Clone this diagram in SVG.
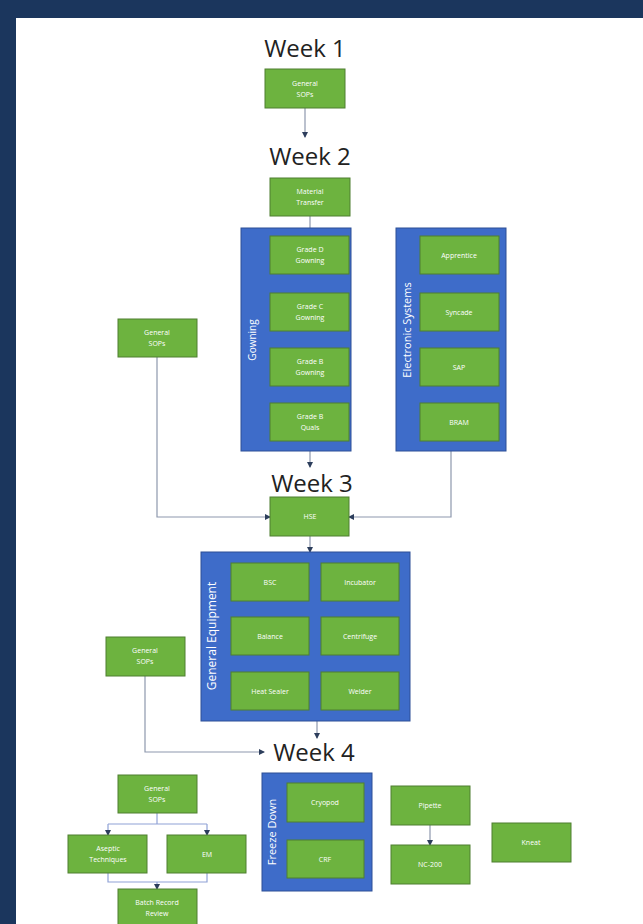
<svg xmlns="http://www.w3.org/2000/svg" width="643" height="924" viewBox="0 0 643 924">
<defs>
<style>
.bg{fill:#1b365d}
.panel{fill:#ffffff}
.box{fill:#6db33f;stroke:#4f7f30;stroke-width:1}
.grp{fill:#3e6cc9;stroke:#2c4f96;stroke-width:1}
.t{font-family:"Open Sans","Liberation Sans",sans-serif;font-size:7px;fill:#ffffff;text-anchor:middle}
.wk{font-family:"Open Sans","Liberation Sans",sans-serif;font-size:24px;fill:#222222;text-anchor:middle}
.gl{font-family:"Open Sans","Liberation Sans",sans-serif;fill:#ffffff;text-anchor:middle}
.ln{fill:none;stroke:#8e98ad;stroke-width:1.2}
.lb{fill:none;stroke:#8fa2d6;stroke-width:1.2}
</style>
<marker id="ah" viewBox="0 0 6 6" refX="5" refY="3" markerWidth="5" markerHeight="5" orient="auto">
<path d="M0,0 L6,3 L0,6 z" fill="#2d3e5c"/>
</marker>
</defs>
<rect class="bg" x="0" y="0" width="643" height="924"/>
<rect class="panel" x="16" y="18" width="627" height="906"/>

<g id="labels">
<text class="wk" x="305" y="57">Week 1</text>
<text class="wk" x="310" y="165">Week 2</text>
<text class="wk" x="312" y="492">Week 3</text>
<text class="wk" x="314" y="761">Week 4</text>
</g>

<g id="connectors">
<path class="ln" d="M305,108 V137" marker-end="url(#ah)"/>
<path class="ln" d="M310,216 V236" marker-end="url(#ah)"/>
<path class="ln" d="M310,274 V293" marker-end="url(#ah)"/>
<path class="ln" d="M310,331 V348" marker-end="url(#ah)"/>
<path class="ln" d="M310,386 V403" marker-end="url(#ah)"/>
<path class="ln" d="M310,451 V467" marker-end="url(#ah)"/>
<path class="ln" d="M157,357 V517 H270" marker-end="url(#ah)"/>
<path class="ln" d="M451,451 V517 H349" marker-end="url(#ah)"/>
<path class="ln" d="M310,536 V552" marker-end="url(#ah)"/>
<path class="ln" d="M317,721 V738" marker-end="url(#ah)"/>
<path class="ln" d="M145,676 V752 H264" marker-end="url(#ah)"/>
<path class="lb" d="M157,813 V824"/>
<path class="lb" d="M108,824 H207"/>
<path class="lb" d="M108,824 V835" marker-end="url(#ah)"/>
<path class="lb" d="M207,824 V835" marker-end="url(#ah)"/>
<path class="lb" d="M108,873 V882 H207 V873"/>
<path class="lb" d="M157,882 V889" marker-end="url(#ah)"/>
<path class="ln" d="M325,822 V840" marker-end="url(#ah)"/>
<path class="ln" d="M430,825 V845" marker-end="url(#ah)"/>
</g>

<g id="n-w1-sops"><rect class="box" x="265" y="69" width="80" height="39"/><text class="t" x="305" y="86">General</text><text class="t" x="305" y="97">SOPs</text></g>
<g id="n-material"><rect class="box" x="270" y="178" width="80" height="38"/><text class="t" x="310" y="194">Material</text><text class="t" x="310" y="205">Transfer</text></g>

<g id="g-gowning"><rect class="grp" x="241" y="228" width="110" height="223"/><text class="gl" font-size="10" transform="translate(256,340) rotate(-90)">Gowning</text></g>
<g id="n-gradeD"><rect class="box" x="270" y="236" width="79" height="38"/><text class="t" x="310" y="252">Grade D</text><text class="t" x="310" y="263">Gowning</text></g>
<g id="n-gradeC"><rect class="box" x="270" y="293" width="79" height="38"/><text class="t" x="310" y="309">Grade C</text><text class="t" x="310" y="320">Gowning</text></g>
<g id="n-gradeB"><rect class="box" x="270" y="348" width="79" height="38"/><text class="t" x="310" y="364">Grade B</text><text class="t" x="310" y="375">Gowning</text></g>
<g id="n-gradeBq"><rect class="box" x="270" y="403" width="79" height="38"/><text class="t" x="310" y="419">Grade B</text><text class="t" x="310" y="430">Quals</text></g>

<g id="g-electronic"><rect class="grp" x="396" y="228" width="110" height="223"/><text class="gl" font-size="11" transform="translate(411,330) rotate(-90)">Electronic Systems</text></g>
<g id="n-apprentice"><rect class="box" x="420" y="236" width="79" height="38"/><text class="t" x="459" y="258">Apprentice</text></g>
<g id="n-syncade"><rect class="box" x="420" y="293" width="79" height="38"/><text class="t" x="459" y="315">Syncade</text></g>
<g id="n-sap"><rect class="box" x="420" y="348" width="79" height="38"/><text class="t" x="459" y="370">SAP</text></g>
<g id="n-bram"><rect class="box" x="420" y="403" width="79" height="38"/><text class="t" x="459" y="425">BRAM</text></g>

<g id="n-w3-sops"><rect class="box" x="118" y="319" width="79" height="38"/><text class="t" x="157" y="335">General</text><text class="t" x="157" y="346">SOPs</text></g>
<g id="n-hse"><rect class="box" x="270" y="497" width="79" height="39"/><text class="t" x="310" y="519">HSE</text></g>

<g id="g-equipment"><rect class="grp" x="201" y="552" width="209" height="169"/><text class="gl" font-size="12" transform="translate(216,636) rotate(-90)">General Equipment</text></g>
<g id="n-bsc"><rect class="box" x="231" y="563" width="78" height="38"/><text class="t" x="270" y="585">BSC</text></g>
<g id="n-incubator"><rect class="box" x="321" y="563" width="78" height="38"/><text class="t" x="360" y="585">Incubator</text></g>
<g id="n-balance"><rect class="box" x="231" y="617" width="78" height="38"/><text class="t" x="270" y="639">Balance</text></g>
<g id="n-centrifuge"><rect class="box" x="321" y="617" width="78" height="38"/><text class="t" x="360" y="639">Centrifuge</text></g>
<g id="n-heatsealer"><rect class="box" x="231" y="672" width="78" height="38"/><text class="t" x="270" y="694">Heat Sealer</text></g>
<g id="n-welder"><rect class="box" x="321" y="672" width="78" height="38"/><text class="t" x="360" y="694">Welder</text></g>

<g id="n-w4-sops"><rect class="box" x="106" y="637" width="79" height="39"/><text class="t" x="145" y="653">General</text><text class="t" x="145" y="664">SOPs</text></g>

<g id="n-b-sops"><rect class="box" x="118" y="775" width="79" height="38"/><text class="t" x="157" y="791">General</text><text class="t" x="157" y="802">SOPs</text></g>
<g id="n-aseptic"><rect class="box" x="68" y="835" width="79" height="38"/><text class="t" x="108" y="851">Aseptic</text><text class="t" x="108" y="862">Techniques</text></g>
<g id="n-em"><rect class="box" x="167" y="835" width="79" height="38"/><text class="t" x="207" y="857">EM</text></g>
<g id="n-batch"><rect class="box" x="118" y="889" width="79" height="40"/><text class="t" x="157" y="905">Batch Record</text><text class="t" x="157" y="916">Review</text></g>

<g id="g-freeze"><rect class="grp" x="262" y="773" width="110" height="118"/><text class="gl" font-size="11" transform="translate(276,832) rotate(-90)">Freeze Down</text></g>
<g id="n-cryopod"><rect class="box" x="287" y="783" width="77" height="39"/><text class="t" x="325" y="805">Cryopod</text></g>
<g id="n-crf"><rect class="box" x="287" y="840" width="77" height="38"/><text class="t" x="325" y="862">CRF</text></g>

<g id="n-pipette"><rect class="box" x="391" y="786" width="79" height="39"/><text class="t" x="430" y="808">Pipette</text></g>
<g id="n-nc200"><rect class="box" x="391" y="845" width="79" height="39"/><text class="t" x="430" y="867">NC-200</text></g>
<g id="n-kneat"><rect class="box" x="492" y="823" width="79" height="39"/><text class="t" x="531" y="845">Kneat</text></g>
</svg>
